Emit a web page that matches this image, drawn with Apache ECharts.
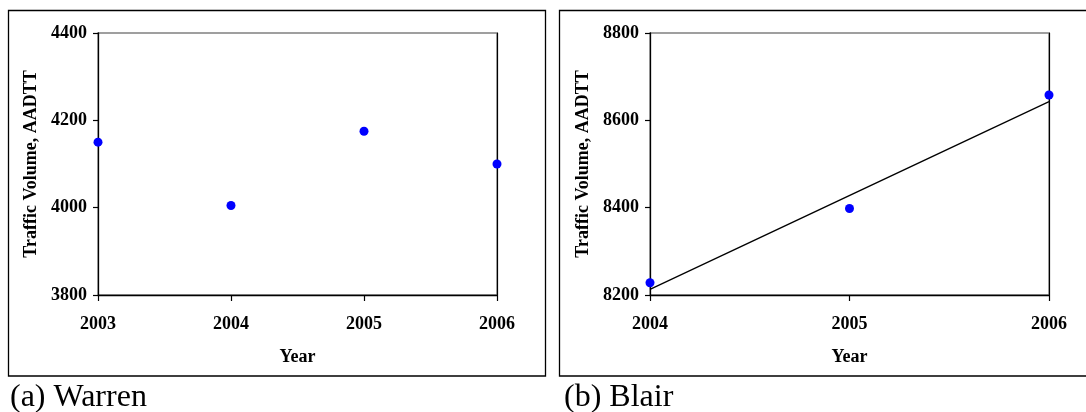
<!DOCTYPE html>
<html>
<head>
<meta charset="utf-8">
<title>Traffic Volume, AADTT</title>
<script src="https://cdn.jsdelivr.net/npm/echarts@6/dist/echarts.min.js"></script>
<style>
  html, body { margin: 0; padding: 0; background: #fff; }
  #chart { width: 1086px; height: 412px; }
</style>
</head>
<body>
<div id="chart"></div>
<script>
// Warren station: annual average daily truck traffic
const warrenYears = [2003, 2004, 2005, 2006];
const warrenVolume = [4150, 4005, 4175, 4100];
const warrenYTicks = [3800, 4000, 4200, 4400];

// Blair station
const blairYears = [2004, 2005, 2006];
const blairVolume = [8228, 8398, 8658];
const blairYTicks = [8200, 8400, 8600, 8800];

const captions = ['(a) Warren', '(b) Blair'];

// least-squares linear trend through the Blair points
function linearFit(xs, ys) {
  const n = xs.length;
  const mx = xs.reduce((a, b) => a + b, 0) / n;
  const my = ys.reduce((a, b) => a + b, 0) / n;
  let sxy = 0, sxx = 0;
  for (let i = 0; i < n; i++) {
    sxy += (xs[i] - mx) * (ys[i] - my);
    sxx += (xs[i] - mx) * (xs[i] - mx);
  }
  const slope = sxy / sxx;
  const icpt = my - slope * mx;
  return x => icpt + slope * x;
}
const blairTrend = linearFit(blairYears, blairVolume);
const blairTrendPts = [blairYears[0], blairYears[blairYears.length - 1]]
  .map(x => [x, blairTrend(x)]);

const SERIF = '"Liberation Serif", "Times New Roman", serif';
const tickFont = { fontFamily: SERIF, fontWeight: 'bold', fontSize: 18, color: '#000' };
const plain = v => String(v);

function xAxisFor(gridIndex, years) {
  return {
    type: 'value', gridIndex,
    min: years[0], max: years[years.length - 1], interval: 1,
    name: 'Year', nameLocation: 'middle', nameGap: 53,
    nameTextStyle: { fontFamily: SERIF, fontWeight: 'bold', fontSize: 18, color: '#000' },
    axisLine: { show: true, onZero: false, lineStyle: { color: '#000', width: 1.3 } },
    axisTick: { show: true, inside: false, length: 6, lineStyle: { color: '#000', width: 1.2 } },
    axisLabel: Object.assign({ margin: 20, formatter: plain }, tickFont),
    splitLine: { show: false }
  };
}
function yAxisFor(gridIndex, ticks) {
  return {
    type: 'value', gridIndex,
    min: ticks[0], max: ticks[ticks.length - 1], interval: ticks[1] - ticks[0],
    name: 'Traffic Volume, AADTT', nameLocation: 'middle', nameGap: 58,
    nameTextStyle: { fontFamily: SERIF, fontWeight: 'bold', fontSize: 18, color: '#000' },
    axisLine: { show: true, onZero: false, lineStyle: { color: '#000', width: 1.3 } },
    axisTick: { show: true, inside: false, length: 5, lineStyle: { color: '#000', width: 1.2 } },
    axisLabel: Object.assign({ margin: 11, formatter: plain }, tickFont),
    splitLine: { show: false }
  };
}
// plain right-hand frame line for each plot
function rightFrame(gridIndex, ticks) {
  return {
    type: 'value', gridIndex, position: 'right',
    min: ticks[0], max: ticks[ticks.length - 1],
    axisLine: { show: true, onZero: false, lineStyle: { color: '#000', width: 1.2 } },
    axisTick: { show: false }, axisLabel: { show: false }, splitLine: { show: false }
  };
}

const dot = { color: '#0000FF', opacity: 1 };

const chart = echarts.init(document.getElementById('chart'), null, { renderer: 'canvas' });
chart.setOption({
  backgroundColor: '#fff',
  animation: false,
  grid: [
    { left: 98, top: 33, width: 399, height: 262, show: true, borderColor: '#808080', borderWidth: 1.3, backgroundColor: 'transparent' },
    { left: 650, top: 33, width: 399, height: 262, show: true, borderColor: '#808080', borderWidth: 1.3, backgroundColor: 'transparent' }
  ],
  xAxis: [xAxisFor(0, warrenYears), xAxisFor(1, blairYears)],
  yAxis: [yAxisFor(0, warrenYTicks), yAxisFor(1, blairYTicks), rightFrame(0, warrenYTicks), rightFrame(1, blairYTicks)],
  series: [
    {
      type: 'scatter', xAxisIndex: 0, yAxisIndex: 0,
      data: warrenYears.map((y, i) => [y, warrenVolume[i]]),
      symbol: 'circle', symbolSize: 9, itemStyle: dot, clip: false
    },
    {
      type: 'line', xAxisIndex: 1, yAxisIndex: 1,
      data: blairTrendPts, showSymbol: false, symbol: 'none',
      lineStyle: { color: '#000', width: 1.3 }, z: 2
    },
    {
      type: 'scatter', xAxisIndex: 1, yAxisIndex: 1,
      data: blairYears.map((y, i) => [y, blairVolume[i]]),
      symbol: 'circle', symbolSize: 9, itemStyle: dot, clip: false, z: 3
    }
  ],
  graphic: [
    { type: 'rect', shape: { x: 8.5, y: 10.5, width: 537, height: 365.5 },
      style: { fill: 'none', stroke: '#000', lineWidth: 1.3 }, silent: true },
    { type: 'rect', shape: { x: 559.5, y: 10.5, width: 540, height: 365.5 },
      style: { fill: 'none', stroke: '#000', lineWidth: 1.3 }, silent: true },
    { type: 'text', left: 10, top: 382,
      style: { text: captions[0], font: '32px ' + SERIF, fill: '#000' } },
    { type: 'text', left: 564, top: 382,
      style: { text: captions[1], font: '32px ' + SERIF, fill: '#000' } }
  ]
});
</script>
</body>
</html>
